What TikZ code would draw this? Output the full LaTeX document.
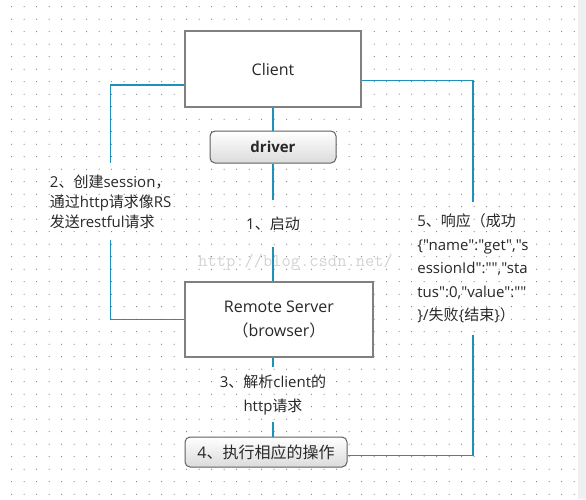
\documentclass[tikz,border=0pt]{standalone}
\usepackage{fontspec}
\setmainfont{Open Sans}[Ligatures=TeXOff]
\newfontfamily\zh{Noto Sans CJK SC}
\definecolor{linec}{RGB}{30,145,185}
\definecolor{boxgray}{RGB}{128,128,128}
\definecolor{rgray}{RGB}{95,95,95}
\definecolor{txt}{RGB}{40,40,40}
\definecolor{dotc}{RGB}{70,70,70}
\begin{document}
\begin{tikzpicture}[x=1pt,y=-1pt,
  conn/.style={draw=linec, line width=1.3pt},
  sqbox/.style={draw=boxgray, line width=1.2pt, fill=white, inner sep=0pt, text=txt,
    font=\fontsize{16}{24}\selectfont, align=center},
  rbox/.style={draw=rgray, line width=1pt, rounded corners=5pt, top color=white,
    bottom color=black!14, inner sep=0pt, text=txt, font=\fontsize{16}{20}\selectfont},
  lbl/.style={inner sep=0pt, text=txt, font=\fontsize{15}{20}\selectfont}
]
\useasboundingbox (0,0) rectangle (586,499);
\fill[white] (0,0) rectangle (586,499);
\foreach \i in {0,...,45} \foreach \j in {0,...,39}
  \fill[dotc] (11.7+12.5*\i, 6.7+12.5*\j) circle (0.5pt);
\fill[black!6] (578,0) rectangle (586,499);

\node[anchor=base west, inner sep=0pt, text=black!17,
  font=\ttfamily\fontsize{18}{18}\selectfont] (wm) at (198,266) {http://blog.csdn.net/};

\node[sqbox, minimum width=176pt, minimum height=76pt] (client) at (273,69) {Client};
\node[rbox, minimum width=126pt, minimum height=32pt, font=\fontsize{15}{20}\selectfont\bfseries] (driver) at (273,147) {driver};
\node[sqbox, minimum width=188pt, minimum height=75pt] (remote) at (279,319.5)
  {Remote Server\\{\zh （}browser{\zh ）}};
\node[rbox, minimum width=162pt, minimum height=30pt] (box4) at (266,452)
  {4{\zh 、执行相应的操作}};

\node[lbl, minimum height=47pt] (lbl1) at (273,223.5) {1{\zh 、启动}};
\node[lbl, minimum height=77pt, align=left] (lbl2) at (110.7,201.5)
  {2{\zh 、创建}session{\zh ，}\\{\zh 通过}http{\zh 请求像}RS\\{\zh 发送}restful{\zh 请求}};
\node[lbl, minimum height=55pt, align=center, font=\fontsize{15}{24}\selectfont] (lbl3) at (273,394.5)
  {3{\zh 、解析}client{\zh 的}\\http{\zh 请求}};
\node[lbl, minimum height=133pt, align=left, font=\fontsize{15}{23.5}\selectfont] (lbl5) at (473,268.5)
  {5{\zh 、响应（成功}\\\{"name":"get","s\\essionId":"","sta\\tus":0,"value":""\\\}/{\zh 失败}\{{\zh 结束}\}{\zh ）}};

\draw[conn] (client) -- (driver);
\draw[conn] (driver) -- (lbl1);
\draw[conn] (lbl1) -- (lbl1 |- remote.north);
\draw[conn] (lbl1 |- remote.south) -- (lbl3);
\draw[conn] (lbl3) -- (lbl3 |- box4.north);
\draw[conn] ([yshift=-16pt]client.west) -| (lbl2.north);
\draw[conn] (lbl2.south) |- (remote.west);
\draw[conn] ([yshift=-11.7pt]client.east) -| (lbl5.north);
\draw[conn] (lbl5.south) |- ([yshift=-3.7pt]box4.east);
\end{tikzpicture}
\end{document}
